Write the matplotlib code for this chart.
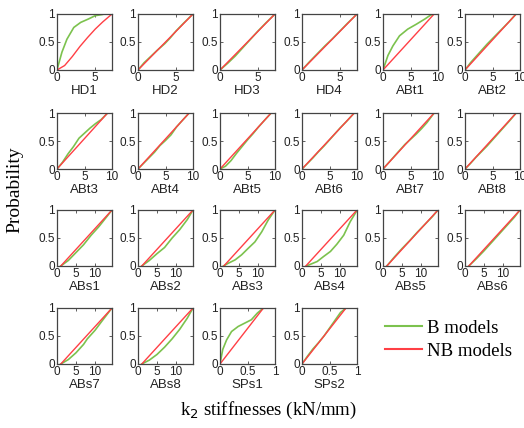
import matplotlib
matplotlib.use("Agg")
import matplotlib.pyplot as plt
import numpy as np
from matplotlib.lines import Line2D

plt.rcParams['font.family'] = ['Liberation Sans', 'DejaVu Sans']

# ---------------- data ----------------
names = ["HD1", "HD2", "HD3", "HD4", "ABt1", "ABt2",
         "ABt3", "ABt4", "ABt5", "ABt6", "ABt7", "ABt8",
         "ABs1", "ABs2", "ABs3", "ABs4", "ABs5", "ABs6",
         "ABs7", "ABs8", "SPs1", "SPs2"]

# axis groups: xlim max and ticks
group_xmax = {"HD": 7.2, "ABt": 10, "ABs": 14.5, "SPs": 1.0}
group_xticks = {"HD": [0, 5], "ABt": [0, 5, 10], "ABs": [0, 5, 10], "SPs": [0, 0.5, 1]}
group_xticklabels = {"HD": ["0", "5"], "ABt": ["0", "5", "10"], "ABs": ["0", "5", "10"],
                     "SPs": ["0", "0.5", "1"]}

# B models (green) curves: x values, y values
B_x = {
    "HD1": [0, 0.3, 0.65, 1.3, 2.2, 3.1, 4.1, 5.0, 5.9, 6.2],
    "HD2": [0, 0.8, 1.5, 2.5, 3.5, 4.2, 5.0, 6.0, 7.2],
    "HD3": [0, 1.0, 2.0, 3.0, 4.0, 5.0, 6.0, 7.2],
    "HD4": [0, 1.0, 2.0, 3.0, 4.0, 5.0, 6.0, 7.2],
    "ABt1": [0, 0.9, 1.8, 3.0, 4.5, 6.1, 7.6, 8.5, 9.1, 9.3],
    "ABt2": [0, 1.0, 2.0, 3.0, 4.0, 5.0, 6.0, 7.0, 8.0, 9.3],
    "ABt3": [0, 1.0, 2.0, 3.0, 4.0, 5.0, 6.0, 7.0, 8.0, 9.2],
    "ABt4": [0, 1.0, 2.0, 3.0, 4.0, 5.0, 6.0, 7.0, 8.0, 9.3],
    "ABt5": [0, 1.0, 2.0, 3.0, 4.0, 5.0, 6.0, 7.0, 8.0, 9.3],
    "ABt6": [0, 1.0, 2.0, 3.0, 4.0, 5.0, 6.0, 7.0, 8.0, 9.5],
    "ABt7": [0, 1.0, 2.0, 3.0, 4.0, 5.0, 6.0, 7.0, 8.0, 9.3],
    "ABt8": [0, 1.0, 2.0, 3.0, 4.0, 5.0, 6.0, 7.0, 8.0, 9.3],
    "ABs1": [1, 3, 5, 7, 9, 11, 13, 14.5],
    "ABs2": [1, 3, 5, 7, 9, 11, 13, 14.5],
    "ABs3": [0.9, 2.2, 4.0, 5.7, 7.5, 9.2, 11.0, 12.7, 14.3, 14.5],
    "ABs4": [1.2, 2.2, 4.0, 5.7, 7.5, 9.2, 11.0, 12.7, 14.3, 14.5],
    "ABs5": [1, 3, 5, 7, 9, 11, 13, 14.5],
    "ABs6": [1, 3, 5, 7, 9, 11, 13, 14.5],
    "ABs7": [1, 3, 5, 7, 8, 10, 12, 14.5],
    "ABs8": [1, 3, 5, 7, 9, 11, 13, 14.5],
    "SPs1": [0, 0.05, 0.12, 0.21, 0.33, 0.45, 0.57, 0.68, 0.79],
    "SPs2": [0, 0.1, 0.2, 0.3, 0.4, 0.5, 0.6, 0.7, 0.8],
}
B_y = {
    "HD1": [0, 0.15, 0.32, 0.55, 0.76, 0.85, 0.91, 0.97, 0.99, 1.0],
    "HD2": [0, 0.13, 0.22, 0.35, 0.47, 0.57, 0.70, 0.84, 1.0],
    "HD3": [0, 0.12, 0.25, 0.40, 0.55, 0.70, 0.84, 1.0],
    "HD4": [0, 0.15, 0.29, 0.43, 0.56, 0.70, 0.84, 1.0],
    "ABt1": [0, 0.26, 0.43, 0.61, 0.73, 0.82, 0.91, 0.97, 1.0, 1.0],
    "ABt2": [0, 0.13, 0.24, 0.35, 0.46, 0.56, 0.66, 0.76, 0.86, 1.0],
    "ABt3": [0, 0.12, 0.27, 0.40, 0.55, 0.64, 0.73, 0.81, 0.88, 1.0],
    "ABt4": [0, 0.10, 0.20, 0.30, 0.42, 0.51, 0.61, 0.75, 0.86, 1.0],
    "ABt5": [0, 0.05, 0.15, 0.28, 0.40, 0.52, 0.63, 0.75, 0.86, 1.0],
    "ABt6": [0, 0.10, 0.20, 0.31, 0.41, 0.52, 0.63, 0.74, 0.84, 1.0],
    "ABt7": [0, 0.11, 0.22, 0.33, 0.44, 0.53, 0.62, 0.72, 0.83, 1.0],
    "ABt8": [0, 0.10, 0.21, 0.31, 0.41, 0.52, 0.63, 0.74, 0.85, 1.0],
    "ABs1": [0, 0.10, 0.24, 0.38, 0.55, 0.70, 0.87, 1.0],
    "ABs2": [0, 0.10, 0.22, 0.33, 0.50, 0.65, 0.83, 1.0],
    "ABs3": [0, 0.05, 0.11, 0.20, 0.32, 0.43, 0.61, 0.82, 0.98, 1.0],
    "ABs4": [0, 0.03, 0.08, 0.17, 0.26, 0.39, 0.55, 0.79, 0.97, 1.0],
    "ABs5": [0, 0.16, 0.31, 0.45, 0.60, 0.74, 0.88, 1.0],
    "ABs6": [0, 0.13, 0.27, 0.42, 0.57, 0.72, 0.87, 1.0],
    "ABs7": [0, 0.08, 0.20, 0.35, 0.45, 0.60, 0.78, 1.0],
    "ABs8": [0, 0.07, 0.17, 0.30, 0.45, 0.62, 0.82, 1.0],
    "SPs1": [0, 0.26, 0.43, 0.58, 0.67, 0.73, 0.79, 0.91, 1.0],
    "SPs2": [0, 0.14, 0.27, 0.38, 0.50, 0.64, 0.78, 0.92, 1.0],
}

# NB models (red) curves
NB_x = {
    "HD1": [0, 1, 2, 3, 4, 5, 6, 7.2],
    "HD2": [0, 7.2], "HD3": [0, 7.2], "HD4": [0, 7.2],
    "ABt1": [0, 9.3], "ABt2": [0, 9.3], "ABt3": [0, 9.2], "ABt4": [0, 9.3],
    "ABt5": [0, 9.3], "ABt6": [0, 9.5], "ABt7": [0, 9.3], "ABt8": [0, 9.3],
    "ABs1": [1, 14.5], "ABs2": [1, 14.5], "ABs3": [1, 14.5], "ABs4": [1, 14.5],
    "ABs5": [1, 14.5], "ABs6": [1, 14.5], "ABs7": [1, 14.5], "ABs8": [1, 14.5],
    "SPs1": [0, 0.79], "SPs2": [0, 0.8],
}
NB_y = {
    "HD1": [0, 0.08, 0.24, 0.42, 0.58, 0.73, 0.86, 1.0],
}
for k in NB_x:
    if k not in NB_y:
        NB_y[k] = [0, 1]

legend_labels = ["B models", "NB models"]

# ---------------- layout ----------------
W, H = 524, 428
fig = plt.figure(figsize=(W / 100, H / 100), dpi=100)

col_left = [57, 138, 220, 302, 383, 465]
row_top = [14, 113, 210, 308]
aw, ah = 55, 56

green = "#7cc24e"
red = "#ff3f45"
spine_col = "#444444"

for i, name in enumerate(names):
    r, c = divmod(i, 6)
    left = col_left[c] / W
    bottom = 1 - (row_top[r] + ah) / H
    ax = fig.add_axes([left, bottom, aw / W, ah / H])
    grp = ''.join(ch for ch in name if ch.isalpha())
    ax.plot(B_x[name], B_y[name], color=green, lw=1.2)
    ax.plot(NB_x[name], NB_y[name], color=red, lw=1.0)
    ax.set_xlim(0, group_xmax[grp])
    ax.set_ylim(0, 1)
    ax.set_xticks(group_xticks[grp])
    ax.set_xticklabels(group_xticklabels[grp])
    ax.set_yticks([0, 0.5, 1])
    ax.set_yticklabels(["0", "0.5", "1"])
    ax.tick_params(direction='in', length=2, width=0.6, labelsize=8.5,
                   top=True, right=True, pad=1.5, colors=spine_col,
                   labelcolor="#222222")
    for s in ax.spines.values():
        s.set_color(spine_col)
        s.set_linewidth(0.9)
    ax.set_xlabel(name, fontsize=9.5, labelpad=1, color="#222222")

fig.text(15 / W, 1 - 190 / H, "Probability", rotation=90, ha='center', va='center',
         fontsize=14, family=['Liberation Serif', 'DejaVu Serif'])
fig.text(268 / W, 1 - 410 / H, "k$_2$ stiffnesses (kN/mm)", ha='center', va='center',
         fontsize=13.5, family=['Liberation Serif', 'DejaVu Serif'])

# legend
handles = [Line2D([], [], color=green, lw=1.5), Line2D([], [], color=red, lw=1.5)]
fig.legend(handles, legend_labels, loc='upper left', bbox_to_anchor=(368 / W, 1 - 303 / H),
           frameon=False, handlelength=2.0, handletextpad=0.25, labelspacing=0.3,
           prop={'family': ['Liberation Serif', 'DejaVu Serif'], 'size': 13.5})

fig.savefig("out.png", dpi=100)
